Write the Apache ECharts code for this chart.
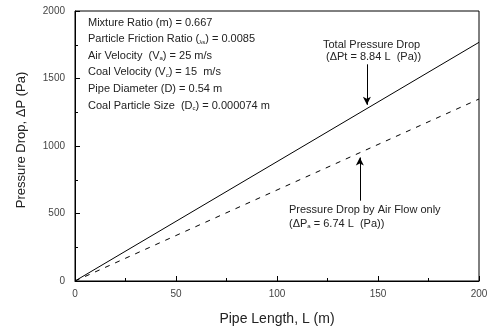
<!DOCTYPE html>
<html><head><meta charset="utf-8">
<script src="https://cdn.jsdelivr.net/npm/echarts@6/dist/echarts.min.js"></script>
<style>html,body{margin:0;padding:0;background:#fff}#c{width:492px;height:331px}</style>
</head><body><div id="c"></div>
<script>
var pipeLength = [0, 50, 100, 150, 200];
var totalDrop = [0, 442, 884, 1326, 1768];
var airDrop = [0, 337, 674, 1011, 1348];
var xTicks = [0, 50, 100, 150, 200];
var yTicks = [0, 500, 1000, 1500, 2000];

var chart = echarts.init(document.getElementById('c'), null, {renderer: 'canvas'});
var F = 'Liberation Sans, Arial, sans-serif';
var txt = '#222';
var sub = {fontSize: 6, fontFamily: F, color: txt, verticalAlign: 'bottom', padding: [6, 0, 0, 0]};
var norm = {fontSize: 11, fontFamily: F, color: txt};
function rt(s){ return {text: s, rich: {a: norm, s: sub}, font: '11px ' + F, fill: txt}; }
var infoLines = [
  '{a|Mixture Ratio (m) = 0.667}',
  '{a|Particle Friction Ratio (}{s|λs}{a|) = 0.0085}',
  '{a|Air Velocity  (V}{s|a}{a|) = 25 m/s}',
  '{a|Coal Velocity (V}{s|c}{a|) = 15  m/s}',
  '{a|Pipe Diameter (D) = 0.54 m}',
  '{a|Coal Particle Size  (D}{s|c}{a|) = 0.000074 m}'
];
var graphics = infoLines.map(function(s, i){
  return {type: 'text', left: 88, top: 17 + i * 16.6, style: rt(s)};
});
graphics.push({type:'text', left: 323, top: 39, style: {text: 'Total Pressure Drop', font: '11px ' + F, fill: txt}});
graphics.push({type:'text', left: 326, top: 51, style: rt('{a|(ΔPt = 8.84 L  (Pa))}')});
graphics.push({type:'text', left: 289, top: 204, style: {text: 'Pressure Drop by Air Flow only', font: '11px ' + F, fill: txt}});
graphics.push({type:'text', left: 289, top: 218, style: rt('{a|(ΔP}{s|a}{a| = 6.74 L  (Pa))}')});

chart.setOption({
  animation: false,
  grid: {left: 75, right: 13, top: 11, bottom: 47, show: true, borderColor: '#000', borderWidth: 1},
  xAxis: {
    type: 'value', min: 0, max: 200, interval: 50,
    name: 'Pipe Length, L (m)', nameLocation: 'middle', nameGap: 31,
    nameTextStyle: {fontSize: 14, fontFamily: F, color: txt},
    axisLine: {lineStyle: {color: '#000'}},
    axisTick: {inside: true, length: 5, lineStyle: {color: '#000'}},
    minorTick: {show: true, splitNumber: 2, length: 3, lineStyle: {color: '#000'}},
    axisLabel: {fontSize: 10, fontFamily: F, color: '#444', margin: 8,
      formatter: function(v){ return xTicks.indexOf(v) >= 0 ? String(v) : ''; }},
    splitLine: {show: false}
  },
  yAxis: {
    type: 'value', min: 0, max: 2000, interval: 500,
    name: 'Pressure Drop, ΔP (Pa)', nameLocation: 'middle', nameGap: 47,
    nameTextStyle: {fontSize: 13, fontFamily: F, color: txt, padding: [0, 0, 0, 12]},
    axisLine: {show: true, lineStyle: {color: '#000'}},
    axisTick: {show: true, inside: true, length: 5, lineStyle: {color: '#000'}},
    minorTick: {show: true, splitNumber: 2, length: 3, lineStyle: {color: '#000'}},
    axisLabel: {fontSize: 10, fontFamily: F, color: '#444', margin: 10,
      formatter: function(v){ return yTicks.indexOf(v) >= 0 ? String(v) : ''; }},
    splitLine: {show: false}
  },
  series: [
    {type: 'line', data: pipeLength.map(function(x, i){ return [x, totalDrop[i]]; }),
     showSymbol: false, lineStyle: {color: '#000', width: 1},
     markLine: {silent: true, symbol: ['none', 'arrow'], symbolSize: [6, 8],
       lineStyle: {color: '#000', width: 1, type: 'solid'}, label: {show: false},
       data: [[{coord: [144.5, 1605]}, {coord: [144.5, 1305]}]]}},
    {type: 'line', data: pipeLength.map(function(x, i){ return [x, airDrop[i]]; }),
     showSymbol: false, lineStyle: {color: '#000', width: 1, type: [5, 6]},
     markLine: {silent: true, symbol: ['none', 'arrow'], symbolSize: [6, 8],
       lineStyle: {color: '#000', width: 1, type: 'solid'}, label: {show: false},
       data: [[{coord: [141, 595]}, {coord: [141, 915]}]]}}
  ],
  graphic: graphics
});
</script></body></html>
